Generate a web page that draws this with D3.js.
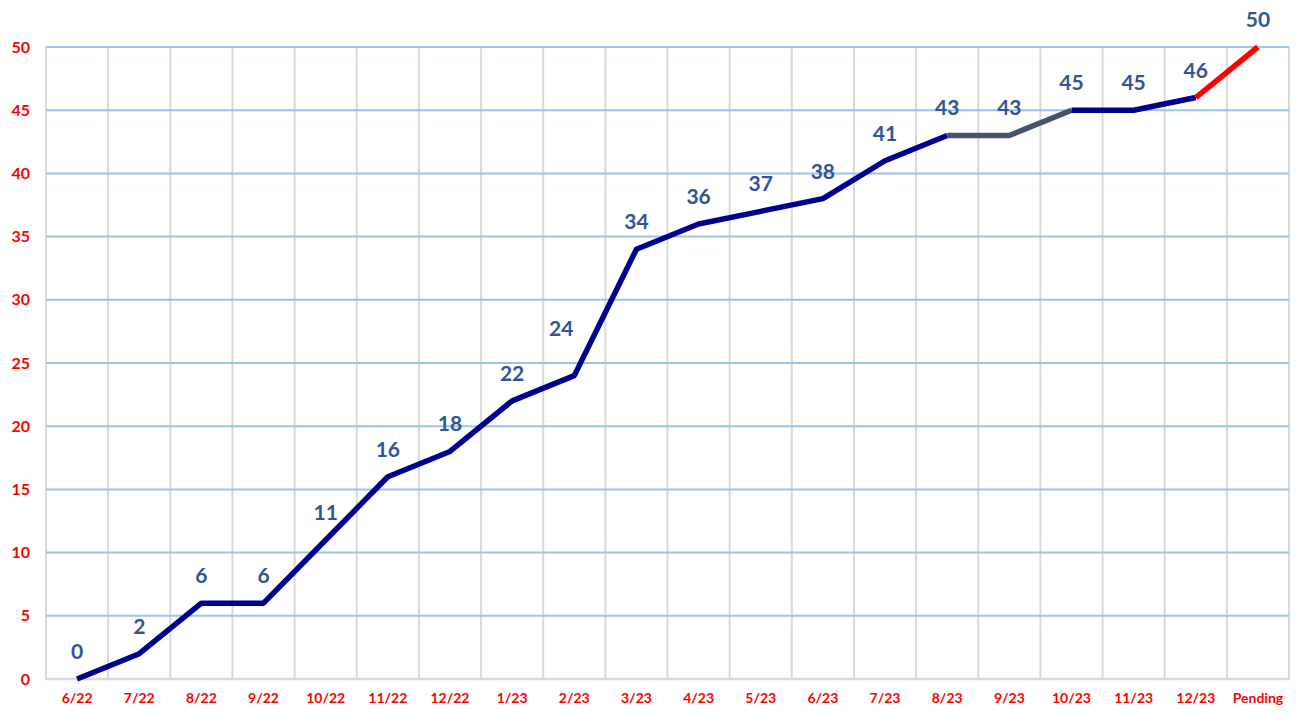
<!DOCTYPE html>
<html><head><meta charset="utf-8">
<script src="https://cdn.jsdelivr.net/npm/d3@7"></script>
<style>body{margin:0;background:#fff}svg{display:block}</style>
</head><body>
<script>
const categories = ["6/22","7/22","8/22","9/22","10/22","11/22","12/22","1/23","2/23","3/23","4/23","5/23","6/23","7/23","8/23","9/23","10/23","11/23","12/23","Pending"];
const values = [0,2,6,6,11,16,18,22,24,34,36,37,38,41,43,43,45,45,46,50];
// segment status: "done" (navy), "pause" (slate), "pending" (red) for segment from point i to i+1
const segmentStatus = ["done","done","done","done","done","done","done","done","done","done","done","done","done","done","pause","pause","done","done","pending"];
const yTicks = [0,5,10,15,20,25,30,35,40,45,50];

const W = 1303, H = 715;
const m = {left:46, right:14, top:47, bottom:36};
const svg = d3.select("body").append("svg").attr("width",W).attr("height",H);

const x = d3.scaleBand().domain(categories).range([m.left, W-m.right]).padding(0);
const y = d3.scaleLinear().domain([0,50]).range([H-m.bottom, m.top]);
const cx = c => x(c) + x.bandwidth()/2;

const statusColor = {done:"#000090", pause:"#44546a", pending:"#ff0000"};

// vertical gridlines
const vLines = categories.map(c => x(c)).concat([x(categories[categories.length-1]) + x.bandwidth()]);
svg.append("g").selectAll("line").data(vLines).join("line")
  .attr("x1",d=>d).attr("x2",d=>d).attr("y1",y(50)).attr("y2",y(0))
  .attr("stroke","#d9d9d9").attr("stroke-width",2);

// horizontal gridlines
svg.append("g").selectAll("line").data(yTicks.filter(t=>t>0)).join("line")
  .attr("x1",m.left).attr("x2",W-m.right).attr("y1",d=>y(d)).attr("y2",d=>y(d))
  .attr("stroke","#9dc3e6").attr("stroke-width",2);
// bottom axis line
svg.append("line").attr("x1",m.left-1).attr("x2",W-m.right+1).attr("y1",y(0)).attr("y2",y(0))
  .attr("stroke","#d9d9d9").attr("stroke-width",2.5);

// y axis
const yAxis = d3.axisLeft(y).tickValues(yTicks).tickSize(0).tickPadding(16);
const gy = svg.append("g").attr("transform",`translate(${m.left},0)`).call(yAxis);
gy.select(".domain").remove();
gy.selectAll("text").attr("fill","#ff0000").style("font-family","Lato, 'Open Sans', sans-serif")
  .style("font-weight","bold").style("font-size","16px");

// x axis
const xAxis = d3.axisBottom(x).tickSize(0).tickPadding(14);
const gx = svg.append("g").attr("transform",`translate(0,${y(0)})`).call(xAxis);
gx.select(".domain").remove();
gx.selectAll("text").attr("fill","#ff0000").style("font-family","Lato, 'Open Sans', sans-serif")
  .style("font-weight","bold").style("font-size","14px");

// line segments
const segs = segmentStatus.map((s,i)=>({s, a:i, b:i+1}));
const runs = [];
segs.forEach(sg=>{
  const last = runs[runs.length-1];
  if (last && last.s===sg.s && last.idx[last.idx.length-1]===sg.a) last.idx.push(sg.b);
  else runs.push({s:sg.s, idx:[sg.a, sg.b]});
});
const line = d3.line().x(i=>cx(categories[i])).y(i=>y(values[i]));
svg.append("g").selectAll("path").data(runs).join("path")
  .attr("d",r=>line(r.idx)).attr("fill","none")
  .attr("stroke",r=>statusColor[r.s]).attr("stroke-width",5.5)
  .attr("stroke-linejoin","round").attr("stroke-linecap","butt");

// data labels (the "24" label is nudged up-left, as in the original)
const labelNudge = {8:[-13,-20]};
svg.append("g").selectAll("text").data(values).join("text")
  .attr("x",(d,i)=>cx(categories[i]) + (labelNudge[i]?labelNudge[i][0]:0))
  .attr("y",(d,i)=>y(d)-20 + (labelNudge[i]?labelNudge[i][1]:0))
  .attr("text-anchor","middle")
  .attr("fill","#2f5597").style("font-family","Lato, 'Open Sans', sans-serif")
  .style("font-weight","bold").style("font-size","21px")
  .text(d=>d);
</script>
</body></html>
